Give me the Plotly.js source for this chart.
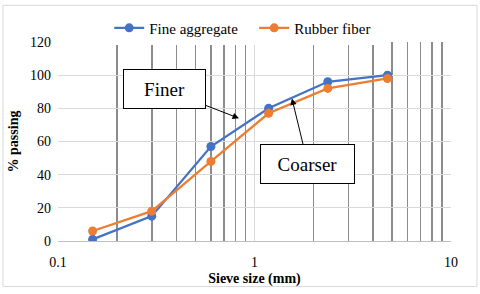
<!DOCTYPE html>
<html><head><meta charset="utf-8">
<script src="https://cdn.plot.ly/plotly-3.0.1.min.js"></script>
<style>html,body{margin:0;padding:0;background:#fff;}#chart{width:480px;height:294px;}</style>
</head><body><div id="chart"></div>
<script>
const sieveSizes = [0.15, 0.3, 0.6, 1.18, 2.36, 4.75];
const fineAggregate = [1, 15, 57, 80, 96, 100];
const rubberFiber = [6, 18, 48, 77, 92, 98];
const seriesNames = ['Fine aggregate', 'Rubber fiber'];
const xMajorTicks = [0.1, 1, 10];
const xMinorTicks = [0.2,0.3,0.4,0.5,0.6,0.7,0.8,0.9,2,3,4,5,6,7,8,9];
const yTicks = [0, 20, 40, 60, 80, 100, 120];
const noteTexts = ['Finer', 'Coarser'];
const noteX = [0.834, 1.55];
const noteY = [74, 86];

const F = 'Liberation Serif';
const traces = [
  {x: sieveSizes, y: fineAggregate, name: seriesNames[0] + '\u00a0\u00a0\u00a0', mode: 'lines+markers',
   line: {color: '#4472C4', width: 2.25}, marker: {color: '#4472C4', size: 9}},
  {x: sieveSizes, y: rubberFiber, name: seriesNames[1], mode: 'lines+markers',
   line: {color: '#ED7D31', width: 2.25}, marker: {color: '#ED7D31', size: 9}}
];
const layout = {
  width: 480, height: 294,
  margin: {l: 58, r: 29, t: 40, b: 53},
  paper_bgcolor: '#fff', plot_bgcolor: '#fff',
  font: {family: F, size: 14, color: '#000'},
  showlegend: true,
  legend: {orientation: 'h', x: 0.47, xanchor: 'center', y: 1.07, yanchor: 'middle',
           font: {family: F, size: 15}, itemwidth: 30, tracegroupgap: 0},
  xaxis: {type: 'log', range: [-1, 1], tickvals: xMajorTicks, ticktext: ['0.1','1','10'],
          showgrid: true, gridcolor: '#d9d9d9', gridwidth: 1,
          minor: {tickvals: xMinorTicks, showgrid: true, gridcolor: '#8c8c8c', gridwidth: 1.5, ticks: ''},
          showline: true, linecolor: '#bfbfbf', ticks: '', zeroline: false,
          ticklabelstandoff: 8,
          tickfont: {family: F, size: 14},
          title: {text: '<b>Sieve size (mm)</b>', font: {family: F, size: 14}, standoff: 4}},
  yaxis: {range: [0, 120], tickvals: yTicks, showgrid: true, gridcolor: '#d9d9d9', gridwidth: 1,
          zeroline: false, showline: false, ticks: '', ticklen: 0,
          ticklabelstandoff: 6,
          tickfont: {family: F, size: 14},
          title: {text: '<b>% passing</b>', font: {family: F, size: 14}, standoff: 8}},
  annotations: [
    {x: Math.log10(noteX[0]), y: noteY[0], text: noteTexts[0], showarrow: true,
     ax: -75, ay: -29, arrowhead: 2, arrowsize: 1.3, arrowwidth: 1, arrowcolor: '#000',
     bordercolor: '#000', borderwidth: 1, bgcolor: '#fff', width: 81, height: 38, borderpad: 0,
     font: {family: F, size: 19, color: '#000'}},
    {x: Math.log10(noteX[1]), y: noteY[1], text: noteTexts[1], showarrow: true,
     ax: 16, ay: 66, arrowhead: 2, arrowsize: 1.3, arrowwidth: 1, arrowcolor: '#000',
     bordercolor: '#000', borderwidth: 1, bgcolor: '#fff', width: 93, height: 38, borderpad: 0,
     font: {family: F, size: 19, color: '#000'}}
  ],
  shapes: [
    {type: 'rect', xref: 'paper', yref: 'paper', x0: -0.14, x1: 1.066, y0: -0.229, y1: 1.184,
     line: {color: '#d9d9d9', width: 1}, fillcolor: 'rgba(0,0,0,0)', layer: 'below'}
  ]
};
Plotly.newPlot('chart', traces, layout, {displayModeBar: false, staticPlot: true});
</script></body></html>
